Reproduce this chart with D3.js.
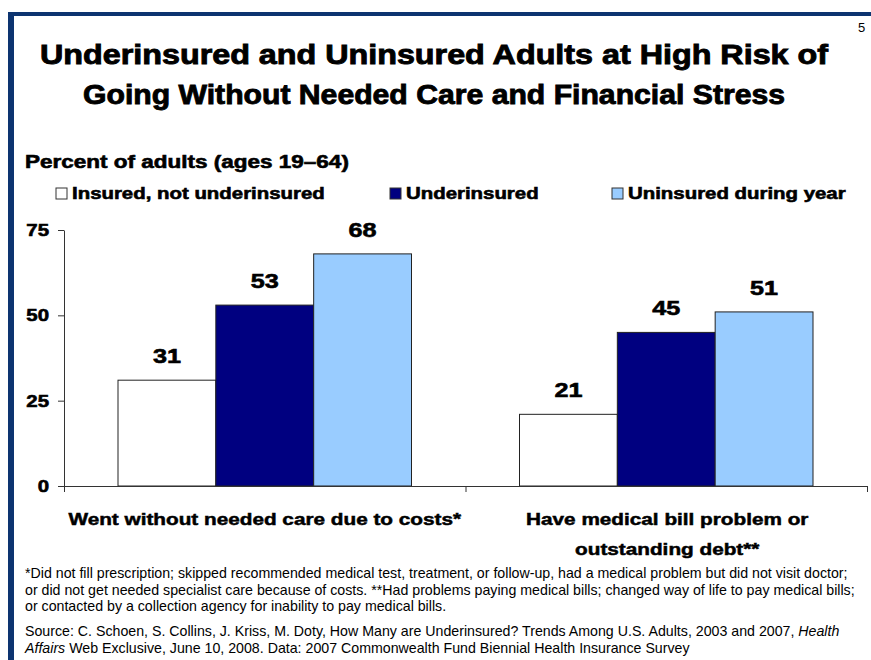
<!DOCTYPE html>
<html>
<head>
<meta charset="utf-8">
<script src="https://cdn.jsdelivr.net/npm/d3@7"></script>
<style>
  body { margin: 0; background: #fff; }
  svg { display: block; }
  text { font-family: "Liberation Sans", Arial, sans-serif; }
</style>
</head>
<body>
<script>
// chart data
const categories = ["Went without needed care due to costs*", "Have medical bill problem or outstanding debt**"];
const categoryLines = [["Went without needed care due to costs*"], ["Have medical bill problem or", "outstanding debt**"]];
const seriesNames = ["Insured, not underinsured", "Underinsured", "Uninsured during year"];
const insured = [31, 21];
const underinsured = [53, 45];
const uninsured = [68, 51];
const yTicks = [0, 25, 50, 75];
const colors = ["#ffffff", "#000080", "#99ccff"];

const footnotes = [
  "*Did not fill prescription; skipped recommended medical test, treatment, or follow-up, had a medical problem but did not visit doctor;",
  "or did not get needed specialist care because of costs. **Had problems paying medical bills; changed way of life to pay medical bills;",
  "or contacted by a collection agency for inability to pay medical bills."
];

var width = 871, height = 660;
let svg = d3.select("body").append("svg")
  .attr("width", width)
  .attr("height", height);

// imitate the wide, heavy slide font: thicken and stretch bold text
function heavy(sel, factor, sw) {
  sel.attr("font-weight", "bold")
    .attr("stroke", "#000").attr("stroke-width", sw)
    .attr("lengthAdjust", "spacingAndGlyphs")
    .each(function() {
      const len = this.getComputedTextLength();
      d3.select(this).attr("textLength", len * factor);
    });
}

// slide frame
svg.append("rect").attr("x", 8).attr("y", 12).attr("width", width).attr("height", 4).attr("fill", "#0d3470");
svg.append("rect").attr("x", 8).attr("y", 12).attr("width", 6).attr("height", height).attr("fill", "#0d3470");

// title
svg.append("text").attr("x", 434).attr("y", 64).attr("text-anchor", "middle")
  .attr("font-size", 28).attr("font-weight", "bold")
  .attr("stroke", "#000").attr("stroke-width", 0.9)
  .attr("textLength", 788).attr("lengthAdjust", "spacingAndGlyphs")
  .text("Underinsured and Uninsured Adults at High Risk of");
svg.append("text").attr("x", 434).attr("y", 104).attr("text-anchor", "middle")
  .attr("font-size", 28).attr("font-weight", "bold")
  .attr("stroke", "#000").attr("stroke-width", 0.9)
  .attr("textLength", 702).attr("lengthAdjust", "spacingAndGlyphs")
  .text("Going Without Needed Care and Financial Stress");
svg.append("text").attr("x", 858).attr("y", 32).attr("font-size", 13).text("5");

svg.append("text").attr("x", 25).attr("y", 168).attr("font-size", 18)
  .text("Percent of adults (ages 19\u201364)")
  .call(heavy, 1.25, 0.6);

// legend
const legendX = [56, 390, 612];
const legend = svg.selectAll("g.legend")
  .data(seriesNames)
  .join("g")
  .attr("class", "legend")
  .attr("transform", (d, i) => `translate(${legendX[i]},188)`);
legend.append("rect").attr("width", 11).attr("height", 11)
  .attr("fill", (d, i) => colors[i]).attr("stroke", "#333").attr("stroke-width", 1);
legend.append("text").attr("x", 16).attr("y", 11).attr("font-size", 17).text(d => d)
  .call(heavy, 1.2, 0.6);

// scales
const x0 = d3.scaleBand().domain(categories).range([64, 867]);
const x1 = d3.scaleBand().domain(seriesNames).range([54, x0.bandwidth() - 54]);
const y = d3.scaleLinear().domain([0, 75]).range([486, 230]);

const seriesValues = [insured, underinsured, uninsured];
const rows = categories.map((c, ci) => seriesNames.map((s, si) => ({ c, s, si, v: seriesValues[si][ci] })));

// bars
const groups = svg.selectAll("g.group")
  .data(rows)
  .join("g")
  .attr("class", "group")
  .attr("transform", d => `translate(${x0(d[0].c)},0)`);

groups.selectAll("rect")
  .data(d => d)
  .join("rect")
  .attr("x", d => x1(d.s))
  .attr("y", d => y(d.v))
  .attr("width", x1.bandwidth())
  .attr("height", d => y(0) - y(d.v))
  .attr("fill", d => colors[d.si])
  .attr("stroke", "#222")
  .attr("stroke-width", 1);

groups.selectAll("text.val")
  .data(d => d)
  .join("text")
  .attr("class", "val")
  .attr("x", d => x1(d.s) + x1.bandwidth() / 2)
  .attr("y", d => y(d.v) - 17)
  .attr("text-anchor", "middle")
  .attr("font-size", 21)
  .text(d => d.v)
  .call(heavy, 1.2, 0.6);

// y axis
const yAxis = svg.append("g").attr("transform", "translate(64,0)")
  .call(d3.axisLeft(y).tickValues(yTicks).tickSize(6).tickSizeOuter(0).tickPadding(9));
yAxis.selectAll("line, path").attr("stroke", "#333");
yAxis.selectAll("text").attr("font-size", 17).attr("fill", "#000")
  .style("font-family", "\"Liberation Sans\", Arial, sans-serif")
  .call(heavy, 1.2, 0.6);

// x axis with ticks at category boundaries
const xb = d3.scaleLinear().domain([0, categories.length]).range(x0.range());
const xAxis = svg.append("g").attr("transform", `translate(0,${y(0)})`)
  .call(d3.axisBottom(xb).tickValues(d3.range(categories.length + 1)).tickSize(6).tickSizeOuter(0).tickFormat(""));
xAxis.selectAll("line, path").attr("stroke", "#333");

// category labels
const catLines = [];
categoryLines.forEach((lines, i) => lines.forEach((t, j) => catLines.push({ t, i, j })));
svg.selectAll("text.cat")
  .data(catLines)
  .join("text")
  .attr("class", "cat")
  .attr("text-anchor", "middle")
  .attr("font-size", 17)
  .attr("x", d => x0(categories[d.i]) + x0.bandwidth() / 2 + (d.i === 1 ? 1 : 0))
  .attr("y", d => 525 + d.j * 30)
  .text(d => d.t)
  .call(heavy, 1.22, 0.5);

// footnotes
svg.selectAll("text.foot")
  .data(footnotes)
  .join("text")
  .attr("class", "foot")
  .attr("x", 25)
  .attr("y", (d, i) => 578 + i * 16.5)
  .attr("font-size", 14.2)
  .text(d => d);

const src = svg.append("text").attr("x", 25).attr("y", 636).attr("font-size", 14.2);
src.append("tspan").text("Source: C. Schoen, S. Collins, J. Kriss, M. Doty, How Many are Underinsured? Trends Among U.S. Adults, 2003 and 2007, ");
src.append("tspan").attr("font-style", "italic").text("Health");
const src2 = svg.append("text").attr("x", 25).attr("y", 653).attr("font-size", 14.2);
src2.append("tspan").attr("font-style", "italic").text("Affairs");
src2.append("tspan").text(" Web Exclusive, June 10, 2008. Data: 2007 Commonwealth Fund Biennial Health Insurance Survey");
</script>
</body>
</html>
